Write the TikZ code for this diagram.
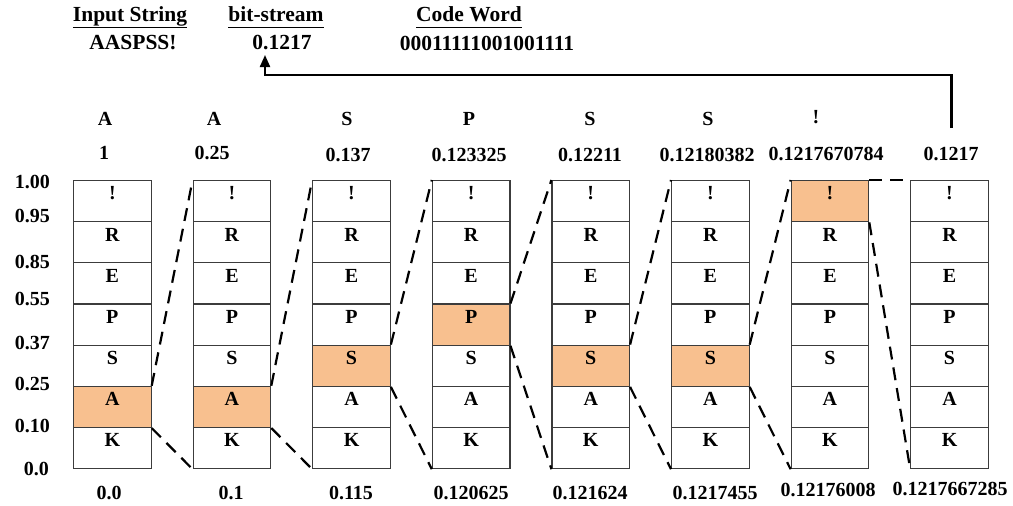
\documentclass[tikz,border=0pt]{standalone}
\usepackage{fontspec}
\setmainfont{Liberation Serif}
\usetikzlibrary{arrows.meta}
\definecolor{hl}{HTML}{F8C08F}
\definecolor{bx}{HTML}{3C3C3C}
\begin{document}
\begin{tikzpicture}[x=1pt,y=-1pt,
  every node/.style={font=\bfseries\fontsize{20}{24}\selectfont, inner sep=0pt},
  cell/.style={draw=bx, line width=1.2pt, minimum width=77.5pt, minimum height=41.14pt, anchor=north west},
  link/.style={dash pattern=on 13pt off 8pt, line width=2.2pt},
  head/.style={font=\bfseries\fontsize{21.5}{26}\selectfont},
  axis/.style={anchor=east},
  flow/.style={line width=2.2pt, -{Triangle[width=10pt,length=12pt]}}]
\useasboundingbox (0,0) rectangle (1013,506);

% header
\node[head] (hin) at (130,17) {\underline{Input String\vphantom{g}}};
\node[head] (in) at (133,43) {AASPSS!};
\node[head] (hbs) at (276,17) {\underline{bit-stream\vphantom{g}}};
\node[head] (bs) at (282,43) {0.1217};
\node[head] (hcw) at (469,17) {\underline{Code Word\vphantom{g}}};
\node[head] (cw) at (487,43) {00011111001001111};

% columns
\foreach \i/\h in {1/5,2/5,3/4,4/3,5/4,6/4,7/0,8/9}{
  \foreach \j/\l in {0/!,1/R,2/E,3/P,4/S,5/A,6/K}{
    \ifnum\j=\h \def\fc{hl}\else\def\fc{white}\fi
    \node[cell, fill=\fc] (c\i r\j) at ({73+119.6*(\i-1)},{180+41.143*\j}) {};
    \node (l\i r\j) at ([yshift=-13.5pt]c\i r\j.north) {\l};
  }
}

% dashed links
\foreach \i/\h in {1/5,2/5,3/4,4/3,5/4,6/4,7/0}{
  \pgfmathtruncatemacro\n{\i+1}
  \draw[link] (c\i r\h.north east) -- (c\n r0.north west);
  \draw[link] (c\i r\h.south east) -- (c\n r6.south west);
}

% axis
\node[axis] (a0) at (50,182) {1.00};
\node[axis] (a1) at (50,216) {0.95};
\node[axis] (a2) at (50,261.5) {0.85};
\node[axis] (a3) at (50,299) {0.55};
\node[axis] (a4) at (50,343) {0.37};
\node[axis] (a5) at (50,384) {0.25};
\node[axis] (a6) at (50,426) {0.10};
\node[axis] (a7) at (49,469) {0.0};

% top symbols
\node (t1) at (105,119) {A};
\node (t2) at (214,119) {A};
\node (t3) at (347,119) {S};
\node (t4) at (469,119) {P};
\node (t5) at (590,119) {S};
\node (t6) at (708,119) {S};
\node (t7) at (816,117) {!};

% top values
\node (v1) at (104,153) {1};
\node (v2) at (212,153) {0.25};
\node (v3) at (348,155) {0.137};
\node (v4) at (469,155) {0.123325};
\node (v5) at (590,155) {0.12211};
\node (v6) at (707,155) {0.12180382};
\node (v7) at (826,154) {0.1217670784};
\node (v8) at (951,153.5) {0.1217};

% bottom values
\node (b1) at (109,493) {0.0};
\node (b2) at (231,493) {0.1};
\node (b3) at (351,493) {0.115};
\node (b4) at (471,493) {0.120625};
\node (b5) at (590,493) {0.121624};
\node (b6) at (715,493) {0.1217455};
\node (b7) at (828,490) {0.12176008};
\node (b8) at (950,489) {0.1217667285};

% result arrow
\coordinate (astart) at (951.5,128);
\coordinate (bend) at (265,75);
\coordinate (tip) at (265,55);
\draw[flow] (astart) |- (bend) -- (tip);
\end{tikzpicture}
\end{document}
